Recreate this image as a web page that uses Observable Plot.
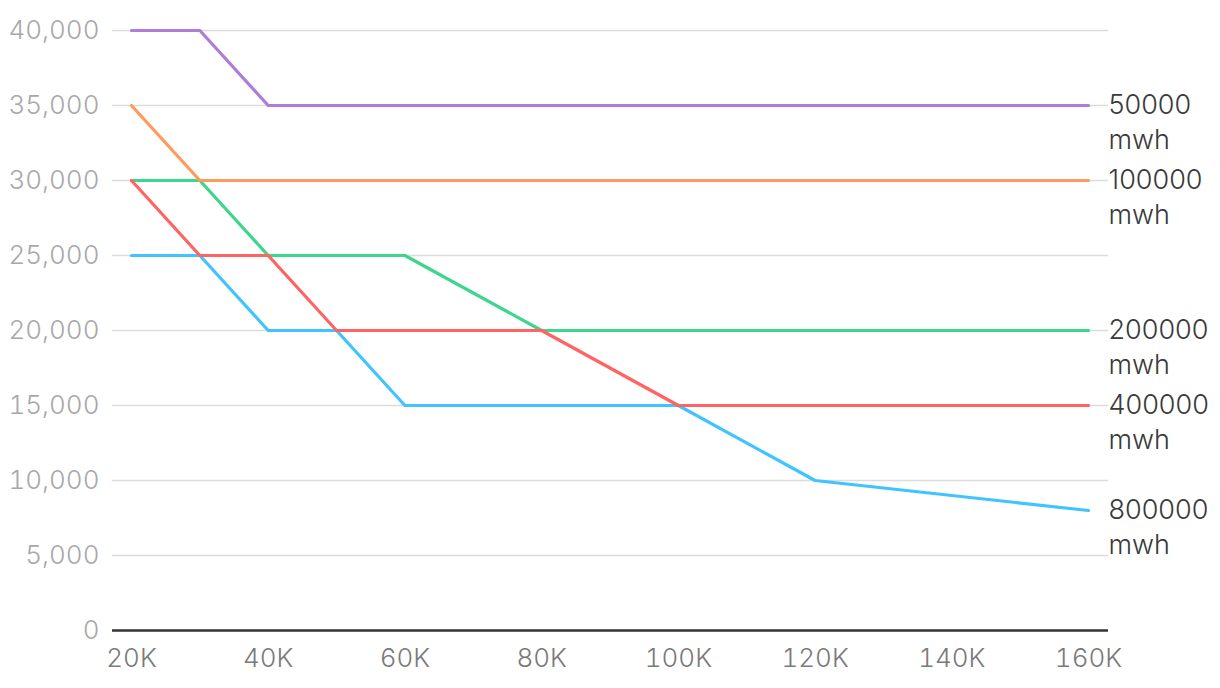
<!DOCTYPE html>
<html>
<head>
<meta charset="utf-8">
<script src="https://cdn.jsdelivr.net/npm/d3@7"></script>
<script src="https://cdn.jsdelivr.net/npm/@observablehq/plot@0.6"></script>
<style>
  html, body { margin: 0; padding: 0; background: #fff; }
  #chart { width: 1220px; height: 688px; }
  svg { font-family: "Inter", "Roboto", "Liberation Sans", sans-serif; font-weight: 300; }
</style>
</head>
<body>
<div id="chart"></div>
<script>
// Categories (x values)
const xValues = [20000, 30000, 40000, 50000, 60000, 80000, 100000, 120000, 160000];
// Series (drawn bottom to top)
const seriesNames = ["800000", "200000", "400000", "100000", "50000"];
const seriesColors = ["#40c4ff", "#3dd68c", "#ff6363", "#ff9a5c", "#b07bd9"];
const values800000 = [25000, 25000, 20000, 20000, 15000, 15000, 15000, 10000, 8000];
const values200000 = [30000, 30000, 25000, 25000, 25000, 20000, 20000, 20000, 20000];
const values400000 = [30000, 25000, 25000, 20000, 20000, 20000, 15000, 15000, 15000];
const values100000 = [35000, 30000, 30000, 30000, 30000, 30000, 30000, 30000, 30000];
const values50000  = [40000, 40000, 35000, 35000, 35000, 35000, 35000, 35000, 35000];
const seriesValues = [values800000, values200000, values400000, values100000, values50000];
const unitLabel = "mwh";
const xTicks = [20000, 40000, 60000, 80000, 100000, 120000, 140000, 160000];
const yTicks = [0, 5000, 10000, 15000, 20000, 25000, 30000, 35000, 40000];

const rows = [];
seriesNames.forEach((name, i) => {
  xValues.forEach((x, j) => rows.push({series: name, x, y: seriesValues[i][j]}));
});
const ends = seriesNames.map((name, i) => ({series: name, x: xValues[xValues.length - 1], y: seriesValues[i][seriesValues[i].length - 1]}));

const font = "Inter, Roboto, 'Liberation Sans', sans-serif";
const chart = Plot.plot({
  width: 1220,
  height: 688,
  marginLeft: 112,
  marginRight: 112,
  marginTop: 30,
  marginBottom: 58,
  insetLeft: 19,
  insetRight: 20,
  style: {fontSize: "26px", fontFamily: font, fontWeight: 300, overflow: "visible"},
  x: {domain: [20000, 160000], ticks: xTicks, tickFormat: d => (d / 1000) + "K", tickSize: 0, tickPadding: 18, label: null},
  y: {domain: [0, 40000], ticks: yTicks, tickFormat: d3.format(","), tickSize: 0, tickPadding: 13, label: null},
  color: {domain: seriesNames, range: seriesColors},
  marks: [
    Plot.ruleY(yTicks.filter(d => d > 0), {stroke: "#dcdcdc", strokeWidth: 1.5}),
    Plot.axisY({ticks: yTicks, tickFormat: d3.format(","), tickSize: 0, tickPadding: 13, fill: "#a8a8a8", fontSize: 26, label: null}),
    Plot.axisX({ticks: xTicks, tickFormat: d => (d / 1000) + "K", tickSize: 0, tickPadding: 18, fill: "#7a7a7a", fontSize: 26, label: null}),
    Plot.ruleY([0], {stroke: "#333", strokeWidth: 2.5}),
    Plot.line(rows, {x: "x", y: "y", z: "series", stroke: "series", strokeWidth: 3.2, strokeLinejoin: "round"}),
    Plot.text(ends, {x: "x", y: "y", text: "series", dx: 20, textAnchor: "start", lineAnchor: "middle", fill: "#3a3a3a", fontSize: 27}),
    Plot.text(ends, {x: "x", y: "y", text: d => unitLabel, dx: 20, dy: 35, textAnchor: "start", lineAnchor: "middle", fill: "#3a3a3a", fontSize: 27})
  ]
});
document.getElementById("chart").appendChild(chart);
</script>
</body>
</html>
